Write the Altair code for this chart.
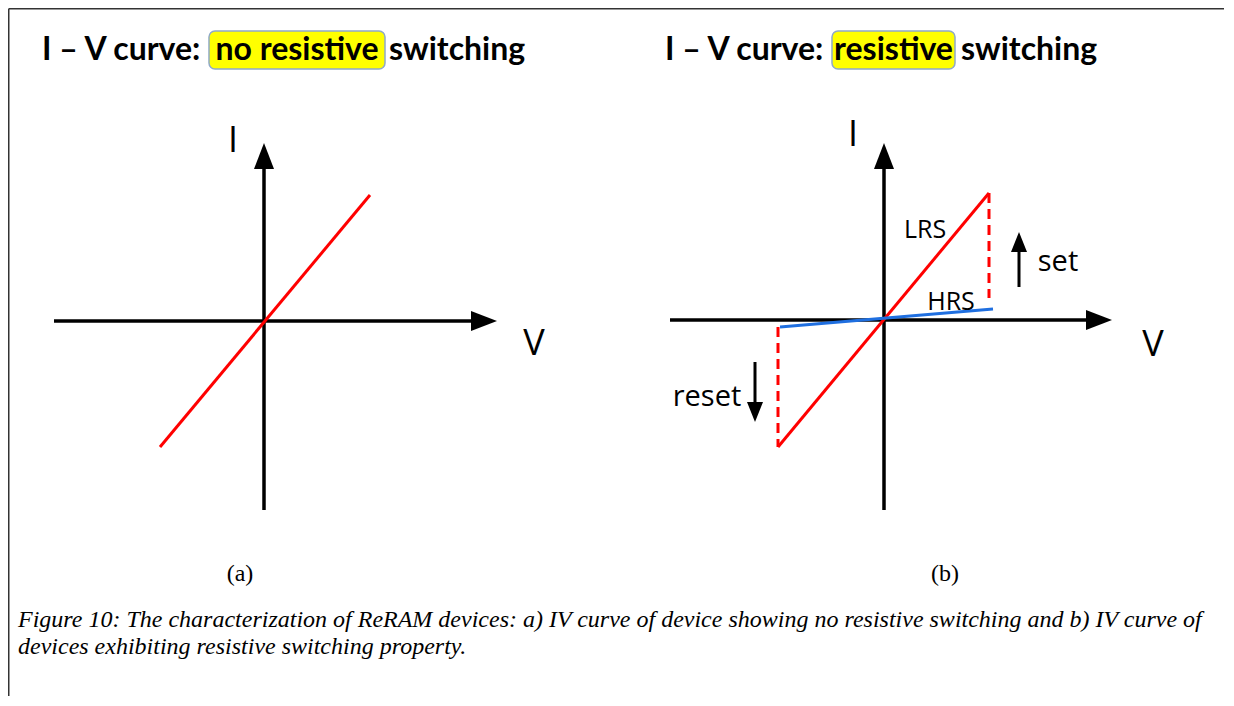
import altair as alt
import pandas as pd

# ---------------- data (diagram units, origin = axis crossing of each panel) ----------------
UNIT = 10.0                       # px per diagram unit
ORIGIN_X = {"a": 264, "b": 884}
ORIGIN_Y = {"a": 321, "b": 320}

axis_panel = ["a", "a", "b", "b"]
axis_dir = ["h", "v", "h", "v"]
axis_start = [-21.0, -18.9, -21.4, -19.0]
axis_tip = [23.3, 17.8, 22.8, 17.7]

curve_panel = ["a", "b", "b"]
curve_name = ["ohmic", "LRS", "HRS"]
curve_v1 = [-10.4, -10.6, -10.4]
curve_i1 = [-12.6, -12.7, -0.7]
curve_v2 = [10.6, 10.5, 10.9]
curve_i2 = [12.6, 12.7, 1.1]

trans_v = [10.5, -10.6]
trans_i1 = [12.7, -0.7]
trans_i2 = [2.2, -12.7]

switch_name = ["set", "reset"]
switch_v = [13.5, -12.9]
switch_i_from = [3.3, -4.2]
switch_i_to = [8.8, -10.2]

label_panel = ["a", "a", "b", "b", "b", "b", "b", "b"]
label_text = ["I", "V", "I", "V", "LRS", "HRS", "set", "reset"]
label_v = [-3.1, 27.0, -3.1, 26.9, 4.1, 6.7, 17.4, -17.7]
label_i = [18.0, -2.3, 18.5, -2.5, 9.0, 1.8, 5.8, -7.7]

title_plain = ["I – V curve:", "switching", "I – V curve:", "switching"]
title_plain_x = [42, 389, 665, 961]
title_hl = ["no resistive", "resistive"]
title_hl_x1 = [209, 832]
title_hl_x2 = [385, 955]

sub_text = ["(a)", "(b)"]
sub_x = [240, 945]

caption_lines = [
    "Figure 10: The characterization of ReRAM devices: a) IV curve of device showing no resistive switching and b) IV curve of",
    "devices exhibiting resistive switching property.",
]

# ---------------- page layout ----------------
W, H = 1216, 688
X0, Y0 = 8, 8   # page margin

xs = alt.Scale(domain=[X0, X0 + W], nice=False, zero=False)
ys = alt.Scale(domain=[Y0, Y0 + H], nice=False, zero=False, reverse=True)


def px(p, v):
    return ORIGIN_X[p] + v * UNIT


def py(p, i):
    return ORIGIN_Y[p] - i * UNIT


# axes
ax_rows, head_rows = [], []
for p, d, s, t in zip(axis_panel, axis_dir, axis_start, axis_tip):
    if d == "h":
        ax_rows.append(dict(x=px(p, s), y=py(p, 0), x2=px(p, t - 1.5), y2=py(p, 0)))
        head_rows.append(dict(x=px(p, t), y=py(p, 0), ang=0))
    else:
        ax_rows.append(dict(x=px(p, 0), y=py(p, s), x2=px(p, 0), y2=py(p, t - 1.5)))
        head_rows.append(dict(x=px(p, 0), y=py(p, t), ang=270))
axes_df = pd.DataFrame(ax_rows)
heads_df = pd.DataFrame(head_rows)

curves_df = pd.DataFrame(dict(
    x=[px(p, v) for p, v in zip(curve_panel, curve_v1)],
    y=[py(p, i) for p, i in zip(curve_panel, curve_i1)],
    x2=[px(p, v) for p, v in zip(curve_panel, curve_v2)],
    y2=[py(p, i) for p, i in zip(curve_panel, curve_i2)],
    name=curve_name,
))

trans_df = pd.DataFrame(dict(
    x=[px("b", v) for v in trans_v],
    y=[py("b", i) for i in trans_i1],
    y2=[py("b", i) for i in trans_i2],
))

sw_shaft = pd.DataFrame(dict(
    x=[px("b", v) for v in switch_v],
    y=[py("b", i) for i in switch_i_from],
    y2=[py("b", t - (1.2 if t > f else -1.2)) for t, f in zip(switch_i_to, switch_i_from)],
))
sw_heads = pd.DataFrame(dict(
    x=[px("b", v) for v in switch_v],
    y=[py("b", t) for t in switch_i_to],
    ang=[270 if t > f else 90 for t, f in zip(switch_i_to, switch_i_from)],
))

labels_df = pd.DataFrame(dict(
    x=[px(p, v) for p, v in zip(label_panel, label_v)],
    y=[py(p, i) for p, i in zip(label_panel, label_i)],
    text=label_text,
))
big_lab = labels_df[labels_df["text"].isin(["I", "V"])]
mid_lab = labels_df[labels_df["text"].isin(["LRS", "HRS"])]
sw_lab = labels_df[labels_df["text"].isin(["set", "reset"])]

title_df = pd.DataFrame(dict(x=title_plain_x, y=[60] * 4, text=title_plain))
hl_df = pd.DataFrame(dict(
    x=title_hl_x1, x2=title_hl_x2, y=[31, 31], y2=[69, 69],
    xm=[(a + b) / 2 for a, b in zip(title_hl_x1, title_hl_x2)], ym=[60, 60], text=title_hl,
))
sub_df = pd.DataFrame(dict(x=sub_x, y=[581, 581], text=sub_text))
cap_df = pd.DataFrame(dict(x=[18, 18], y=[627, 654], text=caption_lines))
border_df = pd.DataFrame(dict(x=[X0 + 0.75, X0 + 0.75], y=[X0 + 0.75, Y0 + 0.75],
                              x2=[X0 + 0.75, X0 + W], y2=[Y0 + H, Y0 + 0.75]))

HEAD_BIG = "M 0 0 L -2 -0.77 L -2 0.77 Z"
HEAD_SMALL = "M 0 0 L -2 -0.8 L -2 0.8 Z"

X = lambda f="x": alt.X(f"{f}:Q", scale=xs, axis=None)
Y = lambda f="y": alt.Y(f"{f}:Q", scale=ys, axis=None)

border = alt.Chart(border_df).mark_rule(color="#333333", strokeWidth=1.5).encode(
    x=X(), y=Y(), x2="x2:Q", y2="y2:Q")

axes = alt.Chart(axes_df).mark_rule(color="black", strokeWidth=3.5).encode(
    x=X(), y=Y(), x2="x2:Q", y2="y2:Q")
heads = alt.Chart(heads_df).mark_point(shape=HEAD_BIG, filled=True, color="black",
                                       size=676, opacity=1, strokeWidth=0).encode(
    x=X(), y=Y(), angle=alt.Angle("ang:Q", scale=None))

curves = alt.Chart(curves_df).mark_rule(strokeWidth=3).encode(
    x=X(), y=Y(), x2="x2:Q", y2="y2:Q",
    color=alt.Color("name:N", scale=alt.Scale(domain=["ohmic", "LRS", "HRS"],
                                              range=["#ff0000", "#ff0000", "#1f6fe0"]),
                    legend=None))

trans = alt.Chart(trans_df).mark_rule(color="#ff0000", strokeWidth=3, strokeDash=[10, 6]).encode(
    x=X(), y=Y(), y2="y2:Q")

sw_lines = alt.Chart(sw_shaft).mark_rule(color="black", strokeWidth=3).encode(
    x=X(), y=Y(), y2="y2:Q")
sw_h = alt.Chart(sw_heads).mark_point(shape=HEAD_SMALL, filled=True, color="black",
                                      size=400, opacity=1, strokeWidth=0).encode(
    x=X(), y=Y(), angle=alt.Angle("ang:Q", scale=None))

big_text = alt.Chart(big_lab).mark_text(font="Open Sans", fontSize=36, fontWeight=400,
                                        color="black", align="center", baseline="middle").encode(
    x=X(), y=Y(), text="text:N")
mid_text = alt.Chart(mid_lab).mark_text(font="Open Sans", fontSize=25, fontWeight=400,
                                        color="black", align="center", baseline="middle").encode(
    x=X(), y=Y(), text="text:N")
sw_text = alt.Chart(sw_lab).mark_text(font="Open Sans", fontSize=29, fontWeight=400,
                                      color="black", align="center", baseline="middle").encode(
    x=X(), y=Y(), text="text:N")

hl_box = alt.Chart(hl_df).mark_rect(fill="#ffff00", stroke="#8fa9c8", strokeWidth=1.5,
                                    cornerRadius=6).encode(x=X(), y=Y(), x2="x2:Q", y2="y2:Q")
hl_text = alt.Chart(hl_df).mark_text(font="Lato", fontSize=32, fontWeight="bold",
                                     color="black", align="center", baseline="alphabetic").encode(
    x=X("xm"), y=Y("ym"), text="text:N")
titles = alt.Chart(title_df).mark_text(font="Lato", fontSize=32, fontWeight="bold",
                                       color="black", align="left", baseline="alphabetic").encode(
    x=X(), y=Y(), text="text:N")

subs = alt.Chart(sub_df).mark_text(font="Liberation Serif", fontSize=24, color="black",
                                   align="center", baseline="alphabetic").encode(
    x=X(), y=Y(), text="text:N")
caption = alt.Chart(cap_df).mark_text(font="Liberation Serif", fontSize=24, fontStyle="italic",
                                      color="black", align="left", baseline="alphabetic").encode(
    x=X(), y=Y(), text="text:N")

chart = alt.layer(
    border, hl_box, axes, heads, curves, trans, sw_lines, sw_h,
    big_text, mid_text, sw_text, titles, hl_text, subs, caption
).properties(
    width=W, height=H, padding=0, autosize=alt.AutoSizeParams(type="none")
).configure_view(stroke=None).configure(background="white")

chart.save("out.html", embed_options={"renderer": "svg", "actions": False})
